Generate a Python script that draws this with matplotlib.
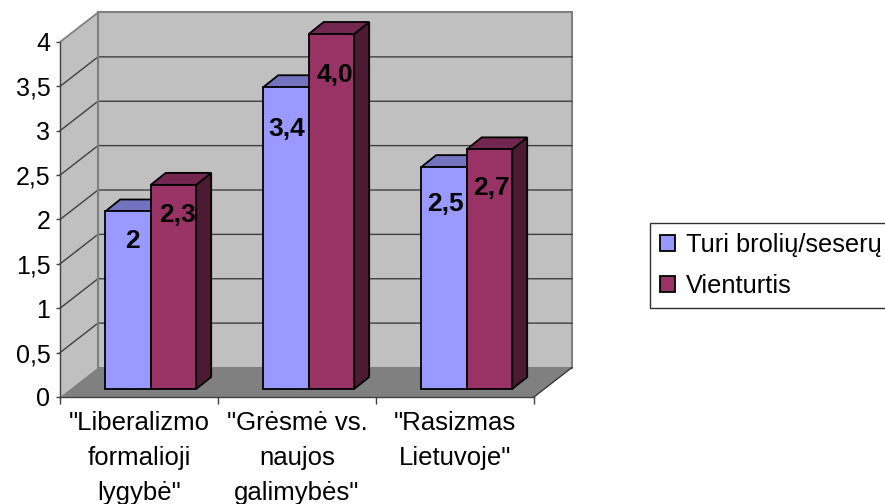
import matplotlib
matplotlib.use('Agg')
import matplotlib.pyplot as plt
from matplotlib.patches import Polygon, Patch

plt.rcParams['font.family'] = ['Liberation Sans', 'DejaVu Sans']

# dati
categorie = ['"Liberalizmo\nformalioji\nlygybė"', '"Grėsmė vs.\nnaujos\ngalimybės"', '"Rasizmas\nLietuvoje"']
serie_nomi = ['Turi brolių/seserų', 'Vienturtis']
turi = [2.0, 3.4, 2.5]
vienturtis = [2.3, 4.0, 2.7]
etichette_turi = ['2', '3,4', '2,5']
etichette_vien = ['2,3', '4,0', '2,7']
y_ticks = [0, 0.5, 1, 1.5, 2, 2.5, 3, 3.5, 4]
y_tick_labels = ['0', '0,5', '1', '1,5', '2', '2,5', '3', '3,5', '4']

# stile
blu = ['#9999FF', '#7373BF', '#4D4D80']
viola = ['#993366', '#732650', '#4D1A33']
px_x = 3 / 474
px_y = 4 / 355

fig = plt.figure(figsize=(8.85, 5.04), dpi=100)
ax = fig.add_axes([60 / 885, (504 - 397) / 504, 474 / 885, 355 / 504])
ax.set_xlim(0, 3)
ax.set_ylim(0, 4)
ax.patch.set_visible(False)

dx = 38 * px_x
dy = 29.5 * px_y

def poly(punti, fc, ec='none', lw=0, z=1):
    ax.add_patch(Polygon(punti, closed=True, facecolor=fc, edgecolor=ec,
                         linewidth=lw, zorder=z, clip_on=False, joinstyle='miter'))

# pareti e pavimento
poly([(dx, dy), (3 + dx, dy), (3 + dx, 4 + dy), (dx, 4 + dy)], '#C0C0C0', '#808080', 1.5)
poly([(0, 0), (dx, dy), (dx, 4 + dy), (0, 4)], '#C0C0C0')
poly([(0, 0), (3, 0), (3 + dx, dy), (dx, dy)], '#808080', z=1.5)
ax.plot([0, dx], [4, 4 + dy], color='#808080', lw=1.3, clip_on=False, zorder=1.6)
ax.plot([3, 3 + dx], [0, dy], color='#303030', lw=0.9, clip_on=False, zorder=1.6)

# griglia
for v in y_ticks[1:-1]:
    ax.plot([0, dx, 3 + dx], [v, v + dy, v + dy], color='#404040', lw=1.0,
            clip_on=False, zorder=1.4)
ax.plot([dx, dx], [dy, 4 + dy], color='#808080', lw=1.5, zorder=1.45, clip_on=False)

# barre 3D
larg = 45.5 * px_x
off_x = 11.7 * px_x
off_y = 8 * px_y
prof_x = 15 * px_x
prof_y = 12 * px_y

def barra(x0, val, colori, z):
    y0 = off_y
    y1 = off_y + val
    x1 = x0 + larg
    poly([(x1, y0), (x1 + prof_x, y0 + prof_y), (x1 + prof_x, y1 + prof_y), (x1, y1)],
         colori[2], 'black', 1.3, z)
    poly([(x0, y1), (x1, y1), (x1 + prof_x, y1 + prof_y), (x0 + prof_x, y1 + prof_y)],
         colori[1], 'black', 1.3, z)
    poly([(x0, y0), (x1, y0), (x1, y1), (x0, y1)], colori[0], 'black', 1.3, z + 0.1)

# spostamento delle etichette rispetto alla barra, in pixel
cali_turi = [30, 42, 37]
cali_vien = [30, 41, 39]
destra_turi = [4, 1, 1]
destra_vien = [4.5, 3, 2]

for i in range(len(categorie)):
    centro = i + 0.5 + off_x
    barra(centro - larg, turi[i], blu, 3 + i)
    barra(centro, vienturtis[i], viola, 3.5 + i)
    ax.text(centro - larg / 2 + destra_turi[i] * px_x, off_y + turi[i] - cali_turi[i] * px_y, etichette_turi[i],
            ha='center', va='center', fontsize=19, fontweight='bold', zorder=10)
    ax.text(centro + larg / 2 + destra_vien[i] * px_x, off_y + vienturtis[i] - cali_vien[i] * px_y, etichette_vien[i],
            ha='center', va='center', fontsize=19, fontweight='bold', zorder=10)

# assi
for s in ['top', 'right']:
    ax.spines[s].set_visible(False)
for s in ['left', 'bottom']:
    ax.spines[s].set_color('#404040')
    ax.spines[s].set_linewidth(1.0)
    ax.spines[s].set_zorder(2)

ax.set_yticks(y_ticks)
ax.set_yticklabels(y_tick_labels, fontsize=18)
ax.tick_params(axis='y', length=3, width=1, color='#404040', pad=4)

ax.set_xticks([0, 1, 2, 3])
ax.set_xticklabels([])
ax.set_xticks([0.5, 1.5, 2.5], minor=True)
ax.set_xticklabels(categorie, minor=True, fontsize=18.5, linespacing=1.58)
ax.tick_params(axis='x', which='major', length=5, width=1, color='#404040')
ax.tick_params(axis='x', which='minor', length=0, pad=10)

# legenda
maniglie = [Patch(facecolor=blu[0], edgecolor='black', linewidth=1.3, label=serie_nomi[0]),
            Patch(facecolor=viola[0], edgecolor='black', linewidth=1.3, label=serie_nomi[1])]
fig.legend(handles=maniglie, loc='upper left', bbox_to_anchor=(650 / 885, 1 - 223 / 504),
           fontsize=18.3, frameon=True, fancybox=False, edgecolor='#303030', framealpha=1,
           handlelength=0.6, handleheight=0.6, handletextpad=0.45,
           labelspacing=0.68, borderpad=0.38, borderaxespad=0)

fig.savefig('out.png', dpi=100)
